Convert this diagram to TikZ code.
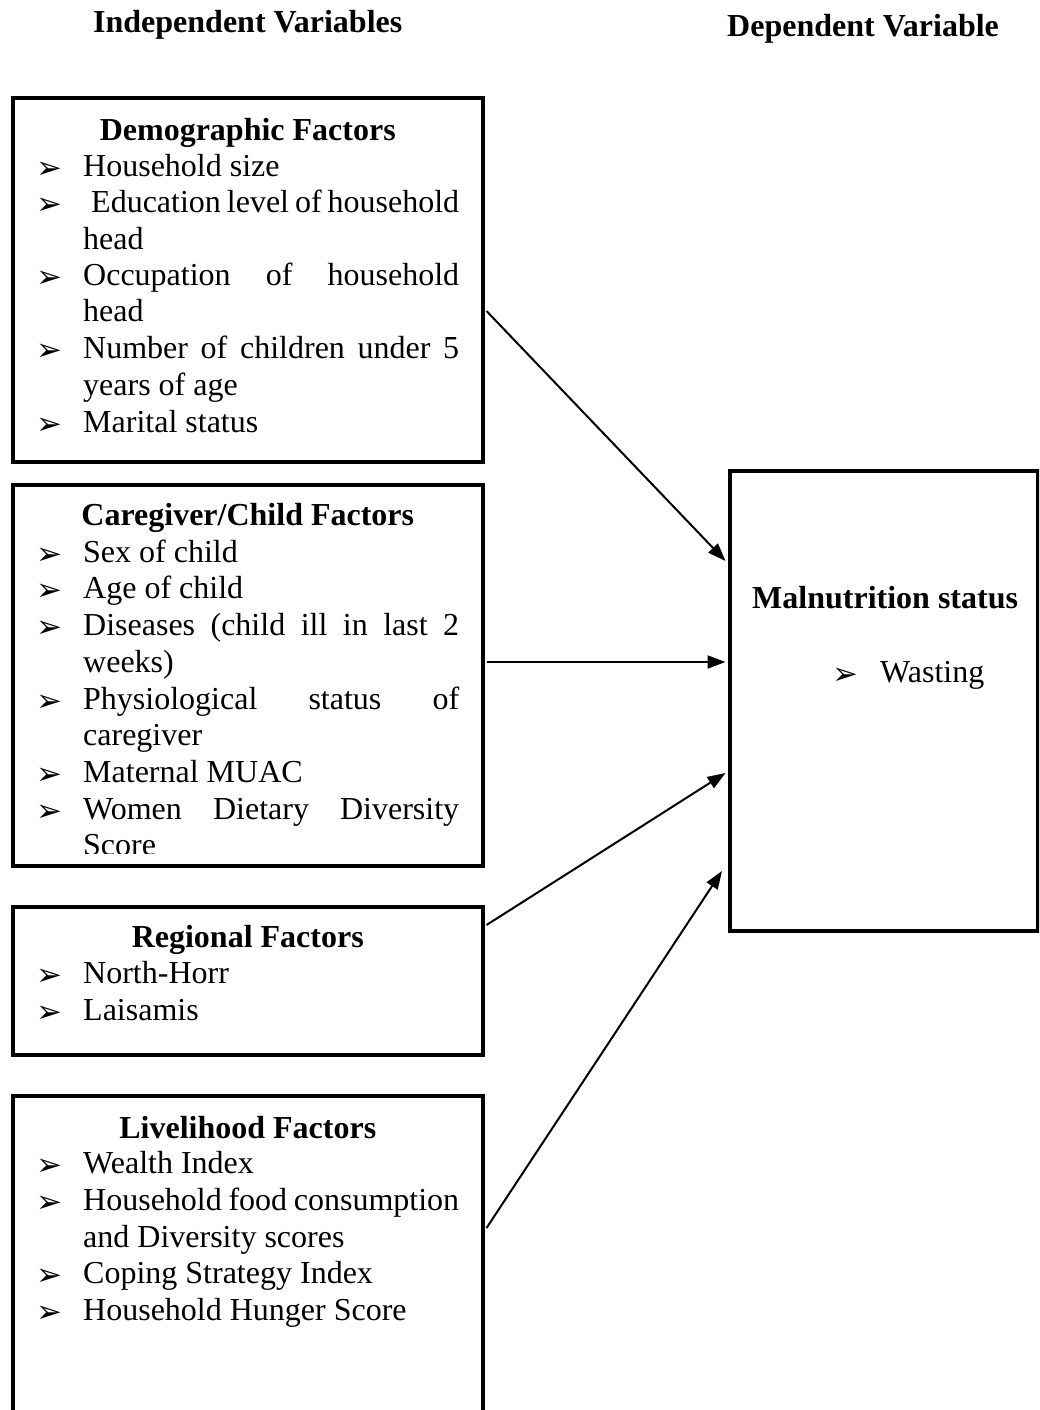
\documentclass[tikz,border=0pt]{standalone}
\usepackage{fontspec}
\setmainfont{Liberation Serif}
\newfontfamily\dvfont{DejaVu Sans}
\usetikzlibrary{arrows.meta,calc}
\begin{document}
\begin{tikzpicture}[x=1pt,y=-1pt,
  box/.style={draw, line width=4pt, inner sep=0pt},
  txt/.style={anchor=base west, inner sep=0pt, font=\fontsize{32}{36}\selectfont},
  hd/.style={anchor=base, inner sep=0pt, font=\fontsize{32}{36}\selectfont\bfseries},
  hdw/.style={anchor=base west, inner sep=0pt, font=\fontsize{32}{36}\selectfont\bfseries},
  bul/.style={anchor=base west, inner sep=0pt, yshift=-2pt, font=\dvfont\fontsize{31}{31}\selectfont},
  arr/.style={line width=2pt, -{Triangle[length=18pt,width=13pt]}}]
\useasboundingbox (0,0) rectangle (1039,1410);
\clip (0,0) rectangle (1039,1410);

% headers
\node[hdw] (hInd) at (93,33) {Independent Variables};
\node[hdw] (hDep) at (727,37) {Dependent Variable};

% boxes
\node[box, minimum width=469.5pt, minimum height=363.5pt] (demo) at (247.75,279.75) {};
\node[box, minimum width=469.5pt, minimum height=381.5pt] (care) at (247.75,675.25) {};
\node[box, minimum width=469.5pt, minimum height=148.5pt] (reg) at (247.75,980.75) {};
\node[box, minimum width=469.5pt, minimum height=330pt] (live) at (247.75,1261) {};
\node[box, minimum width=308pt, minimum height=459.5pt] (mal) at (883.5,700.75) {};

% Demographic
\node[hd] (dH) at (247.75,140) {Demographic Factors};
\node[bul] (db1) at (36,176) {➢};
\node[txt] (d1) at (83,176) {Household size};
\node[bul] (db2) at (36,212.7) {➢};
\node[txt] (d2) at (91,212.7) {\makebox[368pt][s]{Education level of household}};
\node[txt] (d3) at (83,249) {head};
\node[bul] (db3) at (36,285) {➢};
\node[txt] (d4) at (83,285) {\makebox[376pt][s]{Occupation of household}};
\node[txt] (d5) at (83,321.7) {head};
\node[bul] (db4) at (36,358) {➢};
\node[txt] (d6) at (83,358) {\makebox[376pt][s]{Number of children under 5}};
\node[txt] (d7) at (83,395) {years of age};
\node[bul] (db5) at (36,432) {➢};
\node[txt] (d8) at (83,432) {Marital status};

% Caregiver
\node[hd] (cH) at (247.75,525) {Caregiver/Child Factors};
\node[bul] (cb1) at (36,562) {➢};
\node[txt] (c1) at (83,562) {Sex of child};
\node[bul] (cb2) at (36,598) {➢};
\node[txt] (c2) at (83,598) {Age of child};
\node[bul] (cb3) at (36,635) {➢};
\node[txt] (c3) at (83,635) {\makebox[376pt][s]{Diseases (child ill in last 2}};
\node[txt] (c4) at (83,672) {weeks)};
\node[bul] (cb4) at (36,709) {➢};
\node[txt] (c5) at (83,709) {\makebox[376pt][s]{Physiological status of}};
\node[txt] (c6) at (83,745) {caregiver};
\node[bul] (cb5) at (36,782) {➢};
\node[txt] (c7) at (83,782) {Maternal MUAC};
\node[bul] (cb6) at (36,819) {➢};
\node[txt] (c8) at (83,819) {\makebox[376pt][s]{Women Dietary Diversity}};
\begin{scope}
\clip (20,820) rectangle (470,853);
\node[txt] (c9) at (83,855.5) {Score};
\end{scope}

% Regional
\node[hd] (rH) at (247.75,947) {Regional Factors};
\node[bul] (rb1) at (36,983) {➢};
\node[txt] (r1) at (83,983) {North-Horr};
\node[bul] (rb2) at (36,1020) {➢};
\node[txt] (r2) at (83,1020) {Laisamis};

% Livelihood
\node[hd] (lH) at (247.75,1138) {Livelihood Factors};
\node[bul] (lb1) at (36,1173) {➢};
\node[txt] (l1) at (83,1173) {Wealth Index};
\node[bul] (lb2) at (36,1210) {➢};
\node[txt] (l2) at (83,1210) {\makebox[376pt][s]{Household food consumption}};
\node[txt] (l3) at (83,1247) {and Diversity scores};
\node[bul] (lb3) at (36,1283) {➢};
\node[txt] (l4) at (83,1283) {Coping Strategy Index};
\node[bul] (lb4) at (36,1320) {➢};
\node[txt] (l5) at (83,1320) {Household Hunger Score};

% Malnutrition
\node[hdw] (mH) at (752,608) {Malnutrition status};
\node[bul] (mb1) at (832,682) {➢};
\node[txt] (m1) at (880,682) {Wasting};

% arrows
\draw[arr] ($(demo.north east)+(2,215)$) -- ($(mal.north west)+(-2,92)$);
\draw[arr] ($(care.north east)+(2,179.5)$) -- ($(mal.north west)+(-2,193)$);
\draw[arr] ($(reg.north east)+(2,20.5)$) -- ($(mal.north west)+(-2,304)$);
\draw[arr] ($(live.north east)+(2,134)$) -- ($(mal.north west)+(-5.5,402)$);
\end{tikzpicture}
\end{document}
